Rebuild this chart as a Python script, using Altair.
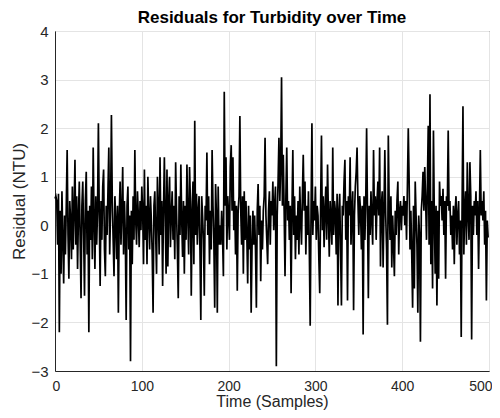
import altair as alt
import pandas as pd

residuals = [
    0.55, 0.6, 0.5, -0.4, 0.65, -2.2, 0.3, -1.0, 0.7, -0.3,
    -1.2, 0.2, -0.6, 0.4, 1.55, -0.2, -1.1, 0.5, 0.1, -0.7,
    0.8, -0.5, 0.3, 1.35, -0.4, 0.6, -0.9, 0.2, 0.9, -0.3,
    -1.5, 0.4, 0.9, -0.2, -1.45, 0.5, 1.1, -0.6, 0.3, -2.2,
    0.4, -0.3, 0.8, -0.7, 1.6, 0.1, -0.9, 0.6, -0.4, 0.3,
    2.1, 0.2, -1.25, 0.5, -0.3, 0.8, 1.15, -0.5, -1.05, 0.4,
    -0.2, 0.7, 1.6, -0.6, 0.3, 2.27, 0.5, -0.3, -1.05, 0.6,
    0.1, -0.7, 0.4, -1.8, 0.2, 0.9, -0.4, 0.3, 1.2, -0.6,
    0.5, -0.2, -1.95, 0.4, 0.8, -0.5, 0.2, -2.8, 0.3, -0.8,
    0.6, -0.3, 1.55, 0.1, -0.4, 0.7, 0.2, -0.45, 0.5, -0.1,
    0.8, 0.3, -0.8, 1.15, -0.3, 0.4, -0.8, 1.0, 0.2, -0.5,
    0.6, 0.1, -0.6, -1.8, 0.4, 0.7, -0.2, -1.0, 1.0, 0.3,
    -0.6, 1.4, -0.2, 0.5, -1.25, 0.3, 1.4, 0.2, -1.0, 1.15,
    -0.85, 0.5, 1.0, -0.45, 0.2, 0.7, -0.3, 0.4, -0.7, 1.3,
    0.3, -0.5, -1.5, 0.6, -0.2, 1.25, 0.1, -0.65, 0.5, -1.0,
    0.4, -0.3, 1.25, 0.2, -0.6, 1.2, 0.5, -1.45, 0.3, 0.9,
    -0.8, 2.15, -0.2, 0.65, -0.4, 0.3, 0.6, -0.5, -1.95, 0.6,
    0.2, -0.3, -1.45, 0.4, 0.1, 1.5, -0.2, 0.6, -0.8, 0.3,
    -0.5, 1.55, 0.4, -0.3, -1.7, 0.85, 0.2, -1.8, 0.8, -0.4,
    0.0, -0.4, 0.3, -0.2, -1.05, 2.75, 0.4, 1.4, -0.5, 0.6,
    0.2, -0.3, 1.2, 1.65, 0.3, 1.4, -0.1, 0.5, -0.6, 0.4,
    -1.35, 0.3, 0.6, 2.25, 0.3, -0.4, 0.6, -1.0, 0.7, -0.3,
    0.5, -0.2, -1.2, 0.4, -0.5, 0.2, -1.8, -0.45, 0.3, -0.4,
    0.2, -0.5, -1.7, 0.3, 0.85, -0.2, 0.4, -1.15, 0.1, -0.5,
    0.3, 0.6, 1.8, 0.2, -0.3, -0.8, 0.3, 0.7, -0.4, 0.5,
    0.2, 0.9, -0.1, 0.4, 0.8, -2.9, 0.2, 0.9, 1.8, 0.5,
    1.2, 3.05, 0.4, 1.45, 0.3, -1.05, 0.6, 1.6, 0.1, 0.5,
    -0.3, 0.4, -1.4, 0.3, 1.55, -0.2, 0.6, -0.7, 0.2, -0.3,
    0.5, -0.6, 0.8, 0.1, -0.4, 0.6, 1.45, 0.3, 0.9, -0.6,
    0.4, -0.2, 0.7, -0.5, -2.07, 0.3, 2.1, -0.2, 0.5, 0.1,
    0.8, -0.3, 0.4, 0.2, -0.7, -1.4, 0.4, 1.85, -0.1, 0.6,
    -0.45, 0.3, 0.8, -0.3, 1.25, 0.2, -0.65, 0.5, 0.1, -0.4,
    1.6, -0.2, 0.5, 0.3, -0.6, 0.65, -1.65, 0.3, 0.65, -0.5,
    -1.65, 0.4, 0.2, 0.9, 1.35, -0.3, 0.5, -1.55, 0.6, 0.2,
    1.4, -0.4, 0.3, 0.7, -1.75, 0.2, 0.8, 1.1, 1.6, 0.5,
    -0.2, 0.6, 0.3, -0.5, 0.4, -2.25, 0.6, -0.3, 0.5, 2.0,
    0.3, -1.5, 0.4, -0.2, 0.7, 0.1, -0.4, 1.55, 0.2, 0.6,
    -0.3, 0.5, 0.9, 0.2, 1.6, -0.85, 0.4, 0.7, -0.87, 0.3,
    1.55, 0.2, -0.5, -2.05, 1.85, 0.4, -0.3, 0.6, -0.87, 0.2,
    -0.4, -1.05, 0.3, -0.2, 0.5, 0.9, -0.6, 0.3, 0.5, -0.1,
    0.4, 0.2, 0.6, 0.0, 0.5, -0.3, 0.8, 2.0, 0.9, -0.5,
    0.3, -0.6, -1.7, 0.4, -1.3, 0.9, 0.2, -0.4, -1.8, 0.2,
    -0.2, -2.4, 0.3, 0.6, 1.1, 0.3, 1.2, 0.5, -0.3, 0.8,
    2.05, -0.4, 2.7, -0.8, 0.5, -1.3, 1.95, 0.2, -1.0, 0.4,
    -1.65, 0.3, -1.1, 0.9, 0.4, 0.6, 0.1, 0.75, -0.2, 0.5,
    -1.1, 0.6, 0.4, 1.95, 0.3, 0.5, -0.2, 0.2, -0.5, 0.4,
    -0.8, 0.3, 0.6, -0.4, 0.2, 0.5, -0.6, 0.1, -2.3, 0.4,
    2.45, -0.6, 0.3, 0.7, -0.4, 1.3, 0.2, -0.3, 1.3, 0.6,
    -2.35, 0.4, -0.2, 0.5, 0.2, 0.7, -0.2, 0.5, -0.9, 0.3,
    1.55, 0.2, 0.5, 0.1, 0.7, -0.4, 0.3, -1.55, 0.1, -0.25,
]
samples = list(range(len(residuals)))

x_ticks = [0, 100, 200, 300, 400, 500]
y_ticks = [-3, -2, -1, 0, 1, 2, 3, 4]

df = pd.DataFrame({"t": samples, "r": residuals})

font = "Liberation Sans"

chart = (
    alt.Chart(df)
    .mark_line(color="black", strokeWidth=1.7)
    .encode(
        x=alt.X(
            "t:Q",
            title="Time (Samples)",
            scale=alt.Scale(domain=[0, 500], nice=False, zero=False),
            axis=alt.Axis(
                values=x_ticks,
                format="d",
                labelFontSize=14,
                labelPadding=8,
                labelFlush=True,
                labelFlushOffset=3,
                labelOverlap=False,
                titleFontSize=16,
                titleBaseline="alphabetic",
                titleY=35,
            ),
        ),
        y=alt.Y(
            "r:Q",
            title="Residual (NTU)",
            scale=alt.Scale(domain=[-3, 4], nice=False),
            axis=alt.Axis(
                values=y_ticks,
                format="d",
                labelFontSize=15,
                labelPadding=7,
                labelFlush=False,
                labelOverlap=False,
                titleFontSize=17,
                titlePadding=2,
            ),
        ),
    )
    .properties(
        width=434,
        height=340,
        autosize=alt.AutoSizeParams(type="none"),
        padding={"left": 47, "top": 23, "right": 3, "bottom": 39},
        title=alt.TitleParams(
            "Residuals for Turbidity over Time",
            font=font,
            fontSize=17,
            fontWeight="bold",
            color="black",
            offset=-3,
        ),
    )
    .configure_view(stroke="#262626", strokeWidth=1)
    .configure_axis(
        labelFont=font,
        titleFont=font,
        labelColor="#262626",
        titleColor="#262626",
        titleFontWeight="normal",
        domainColor="#262626",
        tickSize=0,
        ticks=False,
        gridColor="#e4e4e4",
        gridWidth=1,
    )
)

chart.save("out.html", embed_options={"renderer": "svg", "actions": False})
